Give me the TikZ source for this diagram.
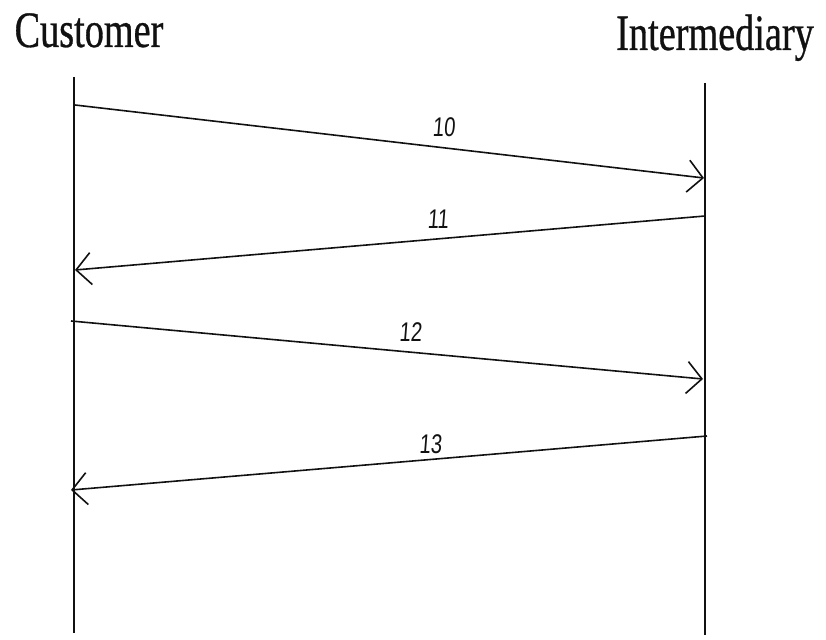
\documentclass[tikz,border=0pt]{standalone}
\usepackage{fontspec}
\usepackage{xcolor}
\usepackage{tikz}
\usetikzlibrary{arrows.meta,positioning,calc}
\newfontfamily\partyfont[FakeStretch=0.75,FakeBold=0.6]{Liberation Serif}
\newfontfamily\handfont[FakeStretch=0.75,FakeSlant=0.08]{Liberation Sans}
\definecolor{INK}{HTML}{111111}

\begin{document}
\begin{tikzpicture}[
  x=1pt, y=-1pt,
  party/.style={font=\partyfont\fontsize{51}{56}\selectfont, text=INK, anchor=base, inner sep=0pt},
  life/.style={draw=INK, line width=1.8pt},
  msg/.style={draw=INK, line width=1.6pt, -{Straight Barb[length=15pt,width=32pt,line width=1.6pt]}},
  num/.style={font=\handfont\fontsize{27}{29}\selectfont, text=INK, inner sep=0pt},
]

\useasboundingbox (0,0) rectangle (826,639);

% ---- parties ----------------------------------------------------------------
\node[party] (cust) at (89,47) {Customer};
\node[party] (inter) at (715,50) {Intermediary};

% ---- lifelines --------------------------------------------------------------
\coordinate (ctop) at (74,77);
\coordinate (cbot) at (74,633);
\coordinate (itop) at (705,83);
\coordinate (ibot) at (705,635);
\draw[life] (ctop) -- (cbot);
\draw[life] (itop) -- (ibot);

% ---- message ends -----------------------------------------------------------
\coordinate (c10) at (75,105);
\coordinate (i10) at (704,178);
\coordinate (i11) at (705,216);
\coordinate (c11) at (75,270);
\coordinate (c12) at (71,321);
\coordinate (i12) at (703,379);
\coordinate (i13) at (707,436);
\coordinate (c13) at (71,490);

% ---- messages ---------------------------------------------------------------
\draw[msg] (c10) -- node[num, pos=0.586, yshift=21pt] (n10) {10} (i10);
\draw[msg] (i11) -- node[num, pos=0.424, yshift=20pt] (n11) {11} (c11);
\draw[msg] (c12) -- node[num, pos=0.537, yshift=20pt] (n12) {12} (i12);
\draw[msg] (i13) -- node[num, pos=0.435, yshift=15pt] (n13) {13} (c13);

\end{tikzpicture}
\end{document}
